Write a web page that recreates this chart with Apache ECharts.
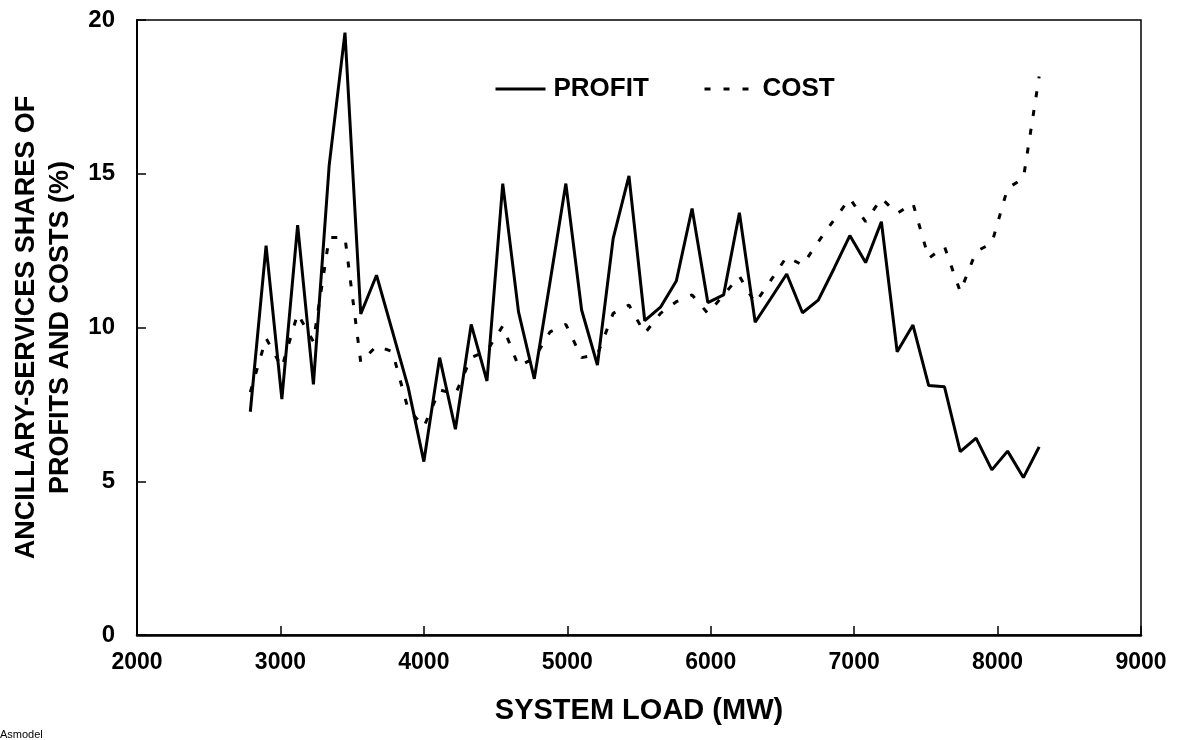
<!DOCTYPE html>
<html>
<head>
<meta charset="utf-8">
<script src="https://cdn.jsdelivr.net/npm/echarts@6/dist/echarts.min.js"></script>
<style>
html,body{margin:0;padding:0;background:#fff;}
#chart{width:1177px;height:740px;}
</style>
</head>
<body>
<div id="chart"></div>
<script>
// System load (MW) — x positions of the points
var systemLoad = [2790, 2900, 3010, 3120, 3230, 3340, 3450, 3560, 3670, 3780,
  3890, 4000, 4110, 4220, 4330, 4440, 4550, 4660, 4770, 4880,
  4990, 5100, 5210, 5320, 5430, 5540, 5650, 5760, 5870, 5980,
  6090, 6200, 6310, 6420, 6530, 6640, 6750, 6860, 6970, 7080,
  7190, 7300, 7410, 7520, 7630, 7740, 7850, 7960, 8070, 8180, 8290];

// Ancillary-services share of profits (%)
var profit = [7.26, 12.66, 7.67, 13.33, 8.15, 15.28, 19.59, 10.44, 11.70, 9.89,
  8.07, 5.64, 9.02, 6.69, 10.10, 8.26, 14.68, 10.51, 8.33, 11.49,
  14.68, 10.57, 8.78, 12.90, 14.93, 10.22, 10.66, 11.51, 13.87, 10.81,
  11.06, 13.73, 10.17, 10.95, 11.74, 10.48, 10.89, 11.92, 12.99, 12.11,
  13.44, 9.21, 10.08, 8.11, 8.07, 5.96, 6.40, 5.37, 5.98, 5.12, 6.12];

// Ancillary-services share of costs (%)
var cost = [7.90, 9.65, 8.70, 10.45, 9.54, 12.93, 12.93, 8.87, 9.40, 9.22,
  7.35, 6.77, 7.97, 7.83, 9.02, 9.24, 10.05, 8.74, 9.00, 9.86,
  10.10, 9.02, 9.12, 10.46, 10.73, 9.81, 10.46, 10.84, 11.06, 10.46,
  11.06, 11.67, 10.79, 11.54, 12.30, 12.03, 12.79, 13.50, 14.20, 13.44,
  14.20, 13.71, 14.04, 12.25, 12.63, 11.16, 12.47, 12.74, 14.53, 14.85, 18.16];

var seriesNames = ['PROFIT', 'COST'];
var xTitle = 'SYSTEM LOAD (MW)';
var yTitle = 'ANCILLARY-SERVICES SHARES OF\nPROFITS AND COSTS (%)';
var footnote = 'Asmodel';

function pairs(xs, ys) { return xs.map(function (x, i) { return [x, ys[i]]; }); }

var FONT = '"Liberation Sans", Arial, Helvetica, sans-serif';
var legendCommon = {top: 76, padding: 0, itemWidth: 50, itemHeight: 14, selectedMode: false,
  itemStyle: {opacity: 0},
  lineStyle: {width: 3, color: '#000'},
  textStyle: {fontFamily: FONT, fontWeight: 'bold', fontSize: 26, color: '#000', padding: [0, 0, 0, 3]}};
var chart = echarts.init(document.getElementById('chart'), null, {renderer: 'canvas'});
chart.setOption({
  animation: false,
  backgroundColor: '#fff',
  grid: {left: 137, right: 36, top: 20, bottom: 105, show: true, borderColor: '#000', borderWidth: 1.5, backgroundColor: 'transparent'},
  legend: [
    Object.assign({data: [seriesNames[0]], left: 494}, legendCommon),
    Object.assign({data: [seriesNames[1]], left: 703}, legendCommon)
  ],
  xAxis: {
    type: 'value', min: 2000, max: 9000, interval: 1000,
    name: xTitle, nameLocation: 'middle', nameGap: 61,
    nameTextStyle: {fontFamily: FONT, fontWeight: 'bold', fontSize: 29, color: '#000'},
    axisLine: {show: true, lineStyle: {color: '#000', width: 2.5}},
    axisTick: {show: true, inside: true, length: 9, lineStyle: {color: '#000', width: 1.5}},
    axisLabel: {fontFamily: FONT, fontWeight: 'bold', fontSize: 23, color: '#000', margin: 16,
      formatter: function (v) { return String(v); }},
    splitLine: {show: false}
  },
  yAxis: {
    type: 'value', min: 0, max: 20, interval: 5,
    name: yTitle, nameLocation: 'middle', nameGap: 57, nameRotate: 90,
    nameTextStyle: {fontFamily: FONT, fontWeight: 'bold', fontSize: 27, color: '#000', lineHeight: 34, align: 'center'},
    axisLine: {show: true, lineStyle: {color: '#000', width: 2}},
    axisTick: {show: true, inside: true, length: 9, lineStyle: {color: '#000', width: 1.5}},
    axisLabel: {fontFamily: FONT, fontWeight: 'bold', fontSize: 24, color: '#000', margin: 22},
    splitLine: {show: false}
  },
  graphic: [{type: 'text', left: 0, top: 729, style: {text: footnote, font: '11px ' + FONT, fill: '#000'}}],
  series: [
    {name: seriesNames[0], type: 'line', data: pairs(systemLoad, profit), symbol: 'none',
     lineStyle: {color: '#000', width: 3}, itemStyle: {color: '#000'}, z: 3},
    {name: seriesNames[1], type: 'line', data: pairs(systemLoad, cost), symbol: 'none',
     lineStyle: {color: '#000', width: 3, type: [6, 13]}, itemStyle: {color: '#000'}, z: 2}
  ]
});
</script>
</body>
</html>
